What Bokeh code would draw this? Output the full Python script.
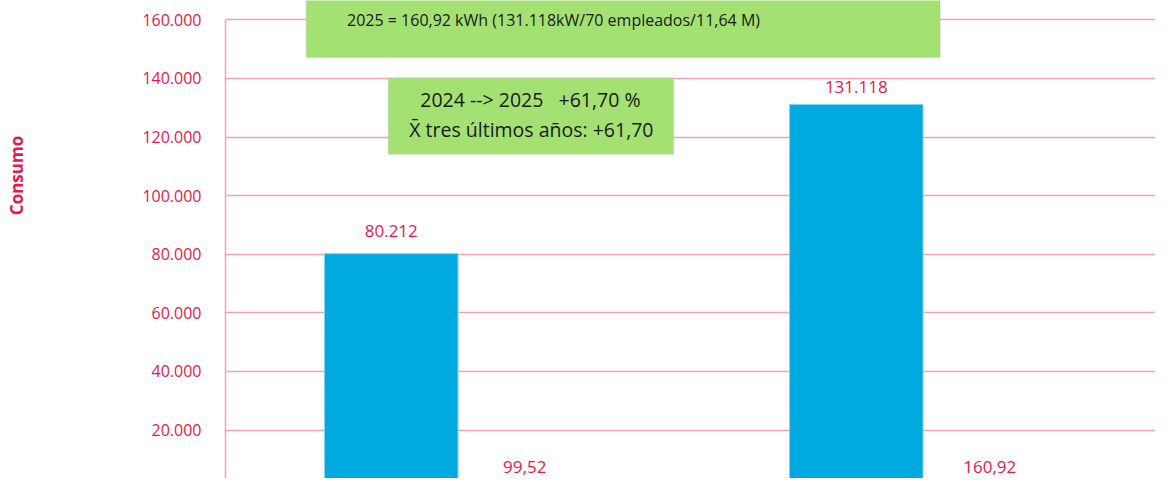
import math
from bokeh.plotting import figure
from bokeh.layouts import row
from bokeh.models import (ColumnDataSource, Range1d, FixedTicker, CustomJSTickFormatter,
                          LabelSet, Label, BoxAnnotation)
from bokeh.core.properties import value
from bokeh.embed import file_html
from bokeh.resources import INLINE

# ---- data ----
years = ["2024", "2025"]
consumo_kw = [80212, 131118]          # consumo total (kW)
ratio_kwh = [99.52, 160.92]           # kWh por empleado/millón
y_ticks = [0, 20000, 40000, 60000, 80000, 100000, 120000, 140000, 160000]

y_title = "Consumo"
box1_text = "2025 = 160,92 kWh (131.118kW/70 empleados/11,64 M)"
box2_line1 = "2024 --> 2025\u00a0\u00a0\u00a0+61,70 %"
box2_line2 = "X\u0304 tres últimos años: +61,70"

# ---- styles ----
PINK = "#E5194B"
GRID = "#F3A3AE"
BLUE = "#00A9E0"
GREEN = "#A4E173"
FONT = "Open Sans"
W, H = 1155, 478
LEFT_W = 100

def es_int(v):
    return f"{v:,.0f}".replace(",", ".")

def es_dec(v):
    return f"{v:.2f}".replace(".", ",")

bar_w = 0.287
x1 = [i + 0.5 - bar_w / 2 for i in range(len(years))]
x2 = [i + 0.5 + bar_w / 2 for i in range(len(years))]

src1 = ColumnDataSource(dict(x=x1, y=consumo_kw, lab=[es_int(v) for v in consumo_kw],
                             off=[23, 17]))
src2 = ColumnDataSource(dict(x=x2, y=ratio_kwh, lab=[es_dec(v) for v in ratio_kwh]))

y_rng = Range1d(3484, 166603)

# narrow left panel that only carries the y title
left = figure(width=LEFT_W, height=H, output_backend="svg", toolbar_location=None,
              x_range=Range1d(0, LEFT_W), y_range=y_rng,
              x_axis_location=None, y_axis_location=None,
              min_border_left=0, min_border_right=0, min_border_top=0, min_border_bottom=0)
left.outline_line_color = None
left.grid.grid_line_color = None
left.add_layout(Label(x=15.8, y=106880, text=y_title, angle=math.pi / 2,
                      text_align="center", text_baseline="middle", text_color=PINK,
                      text_font=FONT, text_font_style="bold", text_font_size="17px"))

p = figure(width=W - LEFT_W, height=H, output_backend="svg", toolbar_location=None,
           x_range=Range1d(0, 2.0), y_range=y_rng,
           x_axis_location=None, min_border_left=225 - LEFT_W, min_border_right=0,
           min_border_top=0, min_border_bottom=0)
p.outline_line_color = None
p.xgrid.grid_line_color = None
p.ygrid.grid_line_color = GRID
p.ygrid.grid_line_width = 1.5
p.ygrid.ticker = FixedTicker(ticks=y_ticks)

ax = p.yaxis[0]
ax.ticker = FixedTicker(ticks=y_ticks)
ax.bounds = (0, 160000)
ax.formatter = CustomJSTickFormatter(code="""
return Math.round(tick).toString().replace(/\\B(?=(\\d{3})+(?!\\d))/g, '.');
""")
ax.axis_line_color = GRID
ax.axis_line_width = 1.5
ax.major_tick_line_color = None
ax.minor_tick_line_color = None
ax.major_label_text_color = PINK
ax.major_label_text_font = FONT
ax.major_label_text_font_size = "16px"
ax.major_label_standoff = 18

p.vbar(x="x", top="y", bottom=0, width=bar_w, source=src1,
       fill_color=BLUE, line_color="#7FD3F0", line_width=1)
p.vbar(x="x", top="y", bottom=0, width=bar_w, source=src2,
       fill_color=BLUE, line_color=None)

p.add_layout(LabelSet(x="x", y="y", text="lab", source=src1, y_offset="off",
                      text_align="center", text_baseline="middle",
                      text_color=PINK, text_font=value(FONT), text_font_size="17px"))
p.add_layout(LabelSet(x="x", y="y", text="lab", source=src2, y_offset=21,
                      text_align="center", text_baseline="middle",
                      text_color=PINK, text_font=value(FONT), text_font_size="17px"))

# annotation boxes
p.add_layout(BoxAnnotation(left=0.1737, right=1.5368, bottom=147112, top=175000,
                           fill_color=GREEN, fill_alpha=1.0,
                           line_color="#BDBDBD", line_width=1.5))
p.add_layout(BoxAnnotation(left=0.350, right=0.9636, bottom=114112, top=140188,
                           fill_color=GREEN, fill_alpha=1.0,
                           line_color="#BDBDBD", line_width=1.5))

p.add_layout(Label(x=0.7054, y=160000, text=box1_text, text_align="center",
                   text_baseline="middle", text_color="#1A1A1A", text_font=FONT,
                   text_font_size="16px"))
p.add_layout(Label(x=0.6557, y=132917, text=box2_line1, text_align="center",
                   text_baseline="middle", text_color="#1A1A1A", text_font=FONT,
                   text_font_size="19.5px"))
p.add_layout(Label(x=0.6578, y=122680, text=box2_line2, text_align="center",
                   text_baseline="middle", text_color="#1A1A1A", text_font=FONT,
                   text_font_size="19.5px"))

layout = row(left, p, spacing=0)
open("out.html", "w").write(file_html(layout, INLINE))
